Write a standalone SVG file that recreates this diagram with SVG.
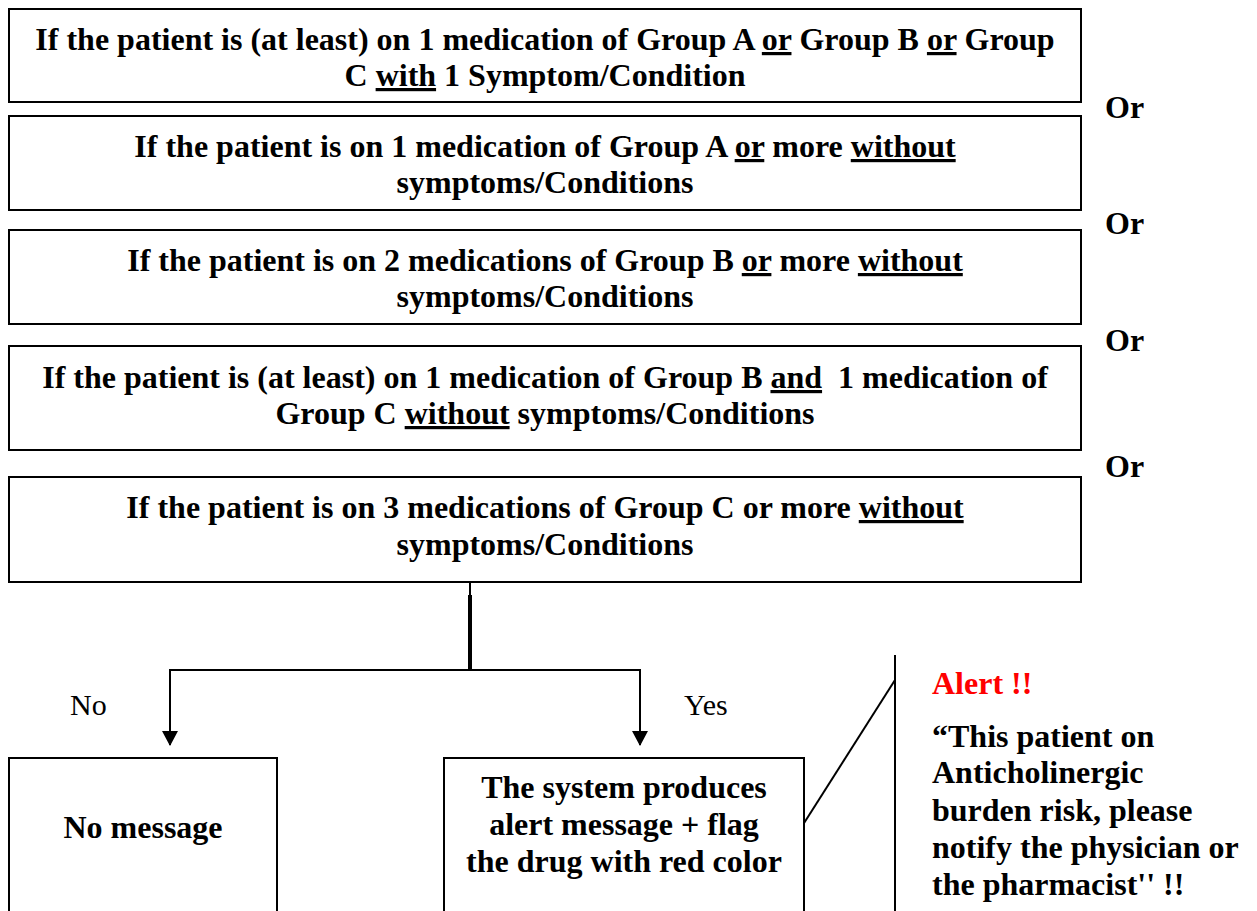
<svg xmlns="http://www.w3.org/2000/svg" width="1257" height="911" viewBox="0 0 1257 911">
<style>
.box{fill:#fff;stroke:#000;stroke-width:2}
.t{font-family:"Liberation Serif",serif;font-size:32px;font-weight:bold;fill:#000}
.c{text-anchor:middle}
.r{font-family:"Liberation Serif",serif;font-size:30px;fill:#000}
.u{text-decoration:underline}
.ln{stroke:#000;stroke-width:2;fill:none}
</style>
<defs>
<marker id="ah" markerWidth="16" markerHeight="16" refX="14" refY="8" orient="auto" markerUnits="userSpaceOnUse">
<path d="M0,0 L15,8 L0,16 Z" fill="#000"/>
</marker>
</defs>
<g id="cond1">
<rect class="box" x="9" y="9" width="1072" height="93"/>
<text class="t c" x="545" y="50">If the patient is (at least) on 1 medication of Group A <tspan class="u">or</tspan> Group B <tspan class="u">or</tspan> Group</text>
<text class="t c" x="545" y="86">C <tspan class="u">with</tspan> 1 Symptom/Condition</text>
</g>
<g id="cond2">
<rect class="box" x="9" y="116" width="1072" height="94"/>
<text class="t c" x="545" y="157">If the patient is on 1 medication of Group A <tspan class="u">or</tspan> more <tspan class="u">without</tspan></text>
<text class="t c" x="545" y="193">symptoms/Conditions</text>
</g>
<g id="cond3">
<rect class="box" x="9" y="230" width="1072" height="94"/>
<text class="t c" x="545" y="271">If the patient is on 2 medications of Group B <tspan class="u">or</tspan> more <tspan class="u">without</tspan></text>
<text class="t c" x="545" y="307">symptoms/Conditions</text>
</g>
<g id="cond4">
<rect class="box" x="9" y="346" width="1072" height="104"/>
<text class="t c" x="545" y="388">If the patient is (at least) on 1 medication of Group B <tspan class="u">and</tspan><tspan dx="8"> 1 medication of</tspan></text>
<text class="t c" x="545" y="424">Group C <tspan class="u">without</tspan> symptoms/Conditions</text>
</g>
<g id="cond5">
<rect class="box" x="9" y="477" width="1072" height="105"/>
<text class="t c" x="545" y="518">If the patient is on 3 medications of Group C or more <tspan class="u">without</tspan></text>
<text class="t c" x="545" y="555">symptoms/Conditions</text>
</g>
<g id="or-labels">
<text class="t" x="1105" y="118">Or</text>
<text class="t" x="1105" y="234">Or</text>
<text class="t" x="1105" y="351">Or</text>
<text class="t" x="1105" y="477">Or</text>
</g>
<g id="connectors">
<line class="ln" x1="470" y1="582" x2="470" y2="596"/>
<line x1="470" y1="595" x2="470" y2="671" stroke="#000" stroke-width="4"/>
<polyline class="ln" points="640,670 170,670"/>
<polyline class="ln" points="170,669 170,745" marker-end="url(#ah)"/>
<polyline class="ln" points="640,669 640,745" marker-end="url(#ah)"/>
<line class="ln" x1="895" y1="655" x2="895" y2="911"/>
<line class="ln" x1="895" y1="680" x2="799" y2="831"/>
<text class="r" x="70" y="715">No</text>
<text class="r" x="684" y="715">Yes</text>
</g>
<g id="no-message">
<rect class="box" x="9" y="758" width="268" height="170"/>
<text class="t c" x="143" y="838">No message</text>
</g>
<g id="alert-box">
<rect class="box" x="444" y="758" width="360" height="170"/>
<text class="t c" x="624" y="798">The system produces</text>
<text class="t c" x="624" y="835">alert message + flag</text>
<text class="t c" x="624" y="872">the drug with red color</text>
</g>
<g id="alert-note">
<text class="t" x="932" y="694" style="fill:#ff0000">Alert !!</text>
<text class="t" x="932" y="747">“This patient on</text>
<text class="t" x="932" y="783">Anticholinergic</text>
<text class="t" x="932" y="821">burden risk, please</text>
<text class="t" x="932" y="858">notify the physician or</text>
<text class="t" x="932" y="895">the pharmacist'' !!</text>
</g>
</svg>
